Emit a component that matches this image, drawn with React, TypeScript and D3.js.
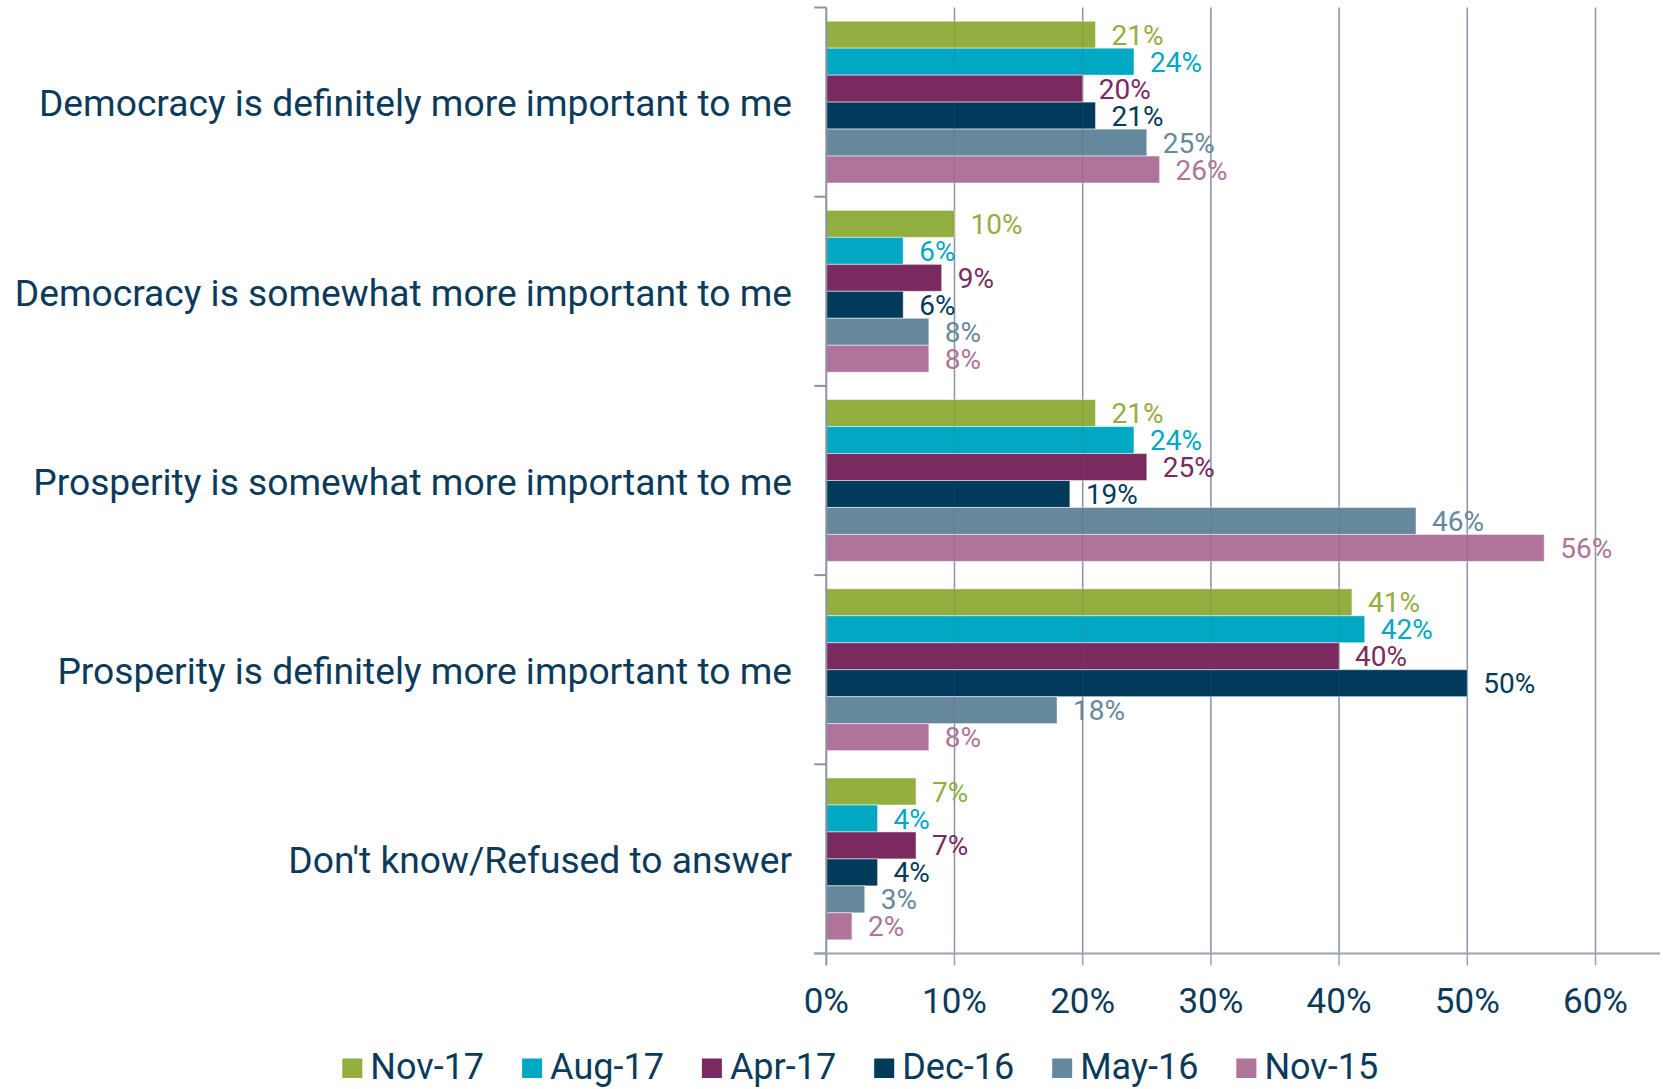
import React, { useEffect, useRef } from "react";
import * as d3 from "d3";

const categories = [
  "Democracy is definitely more important to me",
  "Democracy is somewhat more important to me",
  "Prosperity is somewhat more important to me",
  "Prosperity is definitely more important to me",
  "Don't know/Refused to answer",
];
const seriesNames = ["Nov-17", "Aug-17", "Apr-17", "Dec-16", "May-16", "Nov-15"];
const nov17 = [21, 10, 21, 41, 7];
const aug17 = [24, 6, 24, 42, 4];
const apr17 = [20, 9, 25, 40, 7];
const dec16 = [21, 6, 19, 50, 4];
const may16 = [25, 8, 46, 18, 3];
const nov15 = [26, 8, 56, 8, 2];
const seriesValues = [nov17, aug17, apr17, dec16, may16, nov15];
const seriesColors = ["#92ae3f", "#00a8c3", "#7b2a5f", "#023a5c", "#66889c", "#b07399"];
const tickValues = [0, 10, 20, 30, 40, 50, 60];

const W = 1663;
const H = 1089;
const TEXT = "#0b3a5a";
const GRID = "#9aa3b1";

export default function App() {
  const ref = useRef<SVGSVGElement>(null);

  useEffect(() => {
    const svg = d3.select(ref.current);
    svg.selectAll("*").remove();

    const x0 = 826.3;
    const x = d3.scaleLinear().domain([0, 65]).range([x0, 1659.6]);
    const yTop = 7.5;
    const yBot = 953.5;
    const y = d3.scaleBand<string>().domain(categories).range([yTop, yBot]).padding(0);
    const bw = y.bandwidth();
    const pad = 13.7;
    const ys = d3.scaleBand<string>().domain(seriesNames).range([pad, bw - pad]).padding(0);

    // gridlines (under)
    const g = svg.append("g");
    g.selectAll("line.grid")
      .data(tickValues.slice(1))
      .join("line")
      .attr("x1", (d) => x(d))
      .attr("x2", (d) => x(d))
      .attr("y1", yTop)
      .attr("y2", yBot + 12)
      .attr("stroke", GRID)
      .attr("stroke-width", 1.5);

    // bars
    const data = seriesNames.flatMap((s, si) =>
      categories.map((c, ci) => ({ s, si, c, v: seriesValues[si][ci] }))
    );
    svg.append("g")
      .selectAll("rect")
      .data(data)
      .join("rect")
      .attr("x", x0)
      .attr("y", (d) => (y(d.c) as number) + (ys(d.s) as number))
      .attr("width", (d) => x(d.v) - x0)
      .attr("height", ys.bandwidth())
      .attr("fill", (d) => seriesColors[d.si])
      .attr("stroke", "#ffffff")
      .attr("stroke-opacity", 0.5)
      .attr("stroke-width", 1);

    // faint gridlines over bars
    svg.append("g")
      .selectAll("line")
      .data(tickValues.slice(1))
      .join("line")
      .attr("x1", (d) => x(d))
      .attr("x2", (d) => x(d))
      .attr("y1", yTop)
      .attr("y2", yBot)
      .attr("stroke", "#5a6070")
      .attr("stroke-opacity", 0.18)
      .attr("stroke-width", 1.5);

    // value labels
    svg.append("g")
      .selectAll("text")
      .data(data)
      .join("text")
      .attr("x", (d) => x(d.v) + 16)
      .attr("y", (d) => (y(d.c) as number) + (ys(d.s) as number) + ys.bandwidth() / 2)
      .attr("dy", "0.36em")
      .attr("fill", (d) => seriesColors[d.si])
      .attr("font-family", "Roboto, 'Noto Sans', sans-serif")
      .attr("font-size", 28)
      .text((d) => `${d.v}%`);

    // y axis
    const ax = svg.append("g");
    ax.append("line")
      .attr("x1", x0).attr("x2", x0)
      .attr("y1", yTop).attr("y2", yBot + 12)
      .attr("stroke", "#8a93a3").attr("stroke-width", 2);
    const catTicks = d3.range(categories.length + 1).map((i) => yTop + i * bw);
    ax.selectAll("line.ct")
      .data(catTicks)
      .join("line")
      .attr("x1", x0 - 12).attr("x2", x0)
      .attr("y1", (d) => d).attr("y2", (d) => d)
      .attr("stroke", "#8a93a3").attr("stroke-width", 2);
    // x axis line
    ax.append("line")
      .attr("x1", x0 - 12).attr("x2", 1660)
      .attr("y1", yBot).attr("y2", yBot)
      .attr("stroke", "#9aa3b1").attr("stroke-width", 2);

    // category labels
    svg.append("g")
      .selectAll("text")
      .data(categories)
      .join("text")
      .attr("x", 792)
      .attr("y", (d) => (y(d) as number) + bw / 2 + 1)
      .attr("dy", "0.36em")
      .attr("text-anchor", "end")
      .attr("fill", TEXT)
      .attr("font-family", "Roboto, 'Noto Sans', sans-serif")
      .attr("font-size", 37.2)
      .text((d) => d);

    // tick labels
    svg.append("g")
      .selectAll("text")
      .data(tickValues)
      .join("text")
      .attr("x", (d) => x(d))
      .attr("y", 1012.7)
      .attr("text-anchor", "middle")
      .attr("fill", TEXT)
      .attr("font-family", "Roboto, 'Noto Sans', sans-serif")
      .attr("font-size", 35)
      .text((d) => `${d}%`);

    // legend
    const lg = svg.append("g");
    let lx = 342.3;
    seriesNames.forEach((s, i) => {
      lg.append("rect")
        .attr("x", lx).attr("y", 1058.5)
        .attr("width", 20).attr("height", 19.5)
        .attr("fill", seriesColors[i]);
      const t = lg.append("text")
        .attr("x", lx + 28)
        .attr("y", 1079.3)
        .attr("fill", TEXT)
        .attr("font-family", "Roboto, 'Noto Sans', sans-serif")
        .attr("font-size", 36)
        .text(s);
      const tw = (t.node() as SVGTextElement).getComputedTextLength();
      lx = lx + 28 + tw + 38;
    });
  }, []);

  return (
    <svg
      ref={ref}
      width={W}
      height={H}
      style={{ position: "absolute", left: 0, top: 0, background: "#fff" }}
    />
  );
}
